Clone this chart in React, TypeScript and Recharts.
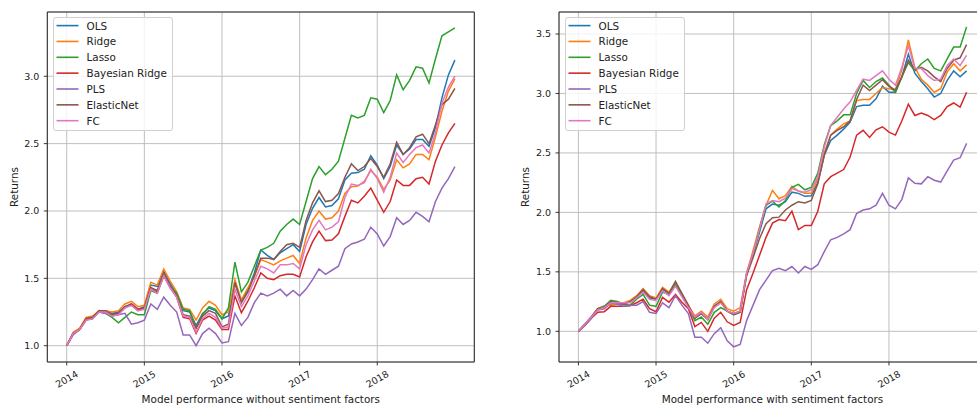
import React from 'react';
import {
  LineChart,
  Line,
  XAxis,
  YAxis,
  CartesianGrid,
  ReferenceArea,
  Legend,
} from 'recharts';

// Monthly cumulative returns, Jan 2014 (month 0) to Jan 2019 (month 60)
const years = ['2014', '2015', '2016', '2017', '2018'];
const yearTicks = [0, 12, 24, 36, 48];

const seriesNames = ['OLS', 'Ridge', 'Lasso', 'Bayesian Ridge', 'PLS', 'ElasticNet', 'FC'];
const seriesColors = ['#1f77b4', '#ff7f0e', '#2ca02c', '#d62728', '#9467bd', '#8c564b', '#e377c2'];

// --- without sentiment factors ---
const olsBase = [
  1.00, 1.09, 1.12, 1.20, 1.21, 1.26, 1.26, 1.24, 1.25, 1.29,
  1.31, 1.27, 1.29, 1.45, 1.44, 1.55, 1.46, 1.38, 1.26, 1.25,
  1.15, 1.24, 1.28, 1.26, 1.20, 1.22, 1.46, 1.33, 1.41, 1.54,
  1.71, 1.67, 1.64, 1.69, 1.72, 1.75, 1.70, 1.90, 2.02, 2.10,
  2.03, 2.04, 2.09, 2.23, 2.28, 2.285, 2.31, 2.41, 2.34, 2.24,
  2.33, 2.49, 2.42, 2.46, 2.53, 2.53, 2.48, 2.62, 2.84, 3.01,
  3.12,
];
const ridgeBase = [
  1.00, 1.10, 1.13, 1.21, 1.22, 1.26, 1.26, 1.25, 1.26, 1.31,
  1.33, 1.29, 1.30, 1.47, 1.45, 1.57, 1.48, 1.40, 1.28, 1.27,
  1.19, 1.28, 1.33, 1.30, 1.23, 1.25, 1.49, 1.34, 1.43, 1.51,
  1.64, 1.62, 1.60, 1.63, 1.65, 1.67, 1.61, 1.80, 1.93, 2.00,
  1.94, 1.95, 2.00, 2.13, 2.18, 2.185, 2.22, 2.30, 2.25, 2.16,
  2.23, 2.38, 2.32, 2.35, 2.42, 2.42, 2.38, 2.55, 2.74, 2.89,
  2.98,
];
const lassoBase = [
  1.00, 1.09, 1.12, 1.19, 1.20, 1.25, 1.24, 1.21, 1.17, 1.21,
  1.25, 1.23, 1.23, 1.41, 1.39, 1.52, 1.44, 1.39, 1.27, 1.26,
  1.13, 1.23, 1.29, 1.27, 1.20, 1.28, 1.62, 1.40, 1.47, 1.59,
  1.71, 1.73, 1.76, 1.85, 1.90, 1.94, 1.90, 2.07, 2.24, 2.33,
  2.27, 2.31, 2.37, 2.54, 2.71, 2.69, 2.71, 2.84, 2.83, 2.73,
  2.82, 3.01, 2.90, 2.97, 3.07, 3.06, 2.95, 3.13, 3.30, 3.33,
  3.36,
];
const bayesBase = [
  1.00, 1.09, 1.12, 1.20, 1.21, 1.26, 1.25, 1.23, 1.24, 1.28,
  1.31, 1.27, 1.28, 1.43, 1.40, 1.52, 1.43, 1.36, 1.21, 1.20,
  1.09, 1.19, 1.22, 1.19, 1.12, 1.12, 1.37, 1.245, 1.33, 1.43,
  1.54, 1.50, 1.49, 1.52, 1.53, 1.53, 1.51, 1.66, 1.77, 1.85,
  1.78, 1.785, 1.83, 1.96, 2.08, 2.06, 2.11, 2.17, 2.08, 1.99,
  2.07, 2.23, 2.19, 2.19, 2.24, 2.25, 2.20, 2.37, 2.49, 2.58,
  2.65,
];
const plsBase = [
  1.00, 1.08, 1.12, 1.19, 1.21, 1.25, 1.24, 1.22, 1.23, 1.24,
  1.16, 1.17, 1.19, 1.31, 1.27, 1.36, 1.30, 1.25, 1.08, 1.08,
  1.00, 1.09, 1.13, 1.09, 1.02, 1.03, 1.24, 1.15, 1.21, 1.32,
  1.39, 1.37, 1.39, 1.42, 1.37, 1.41, 1.37, 1.42, 1.49, 1.57,
  1.53, 1.56, 1.59, 1.72, 1.755, 1.77, 1.79, 1.88, 1.83, 1.74,
  1.81, 1.95, 1.90, 1.93, 1.99, 1.96, 1.92, 2.07, 2.17, 2.24,
  2.33,
];
const enetBase = [
  1.00, 1.09, 1.12, 1.20, 1.21, 1.26, 1.26, 1.23, 1.24, 1.29,
  1.30, 1.26, 1.28, 1.43, 1.41, 1.54, 1.44, 1.37, 1.23, 1.22,
  1.13, 1.22, 1.26, 1.24, 1.14, 1.16, 1.47, 1.32, 1.40, 1.52,
  1.65, 1.65, 1.64, 1.70, 1.75, 1.76, 1.73, 1.93, 2.06, 2.15,
  2.07, 2.08, 2.13, 2.25, 2.35, 2.30, 2.33, 2.39, 2.33, 2.25,
  2.35, 2.51, 2.42, 2.47, 2.55, 2.57, 2.50, 2.64, 2.79, 2.83,
  2.91,
];
const fcBase = [
  1.00, 1.09, 1.12, 1.19, 1.20, 1.25, 1.25, 1.22, 1.23, 1.28,
  1.30, 1.26, 1.27, 1.42, 1.39, 1.52, 1.43, 1.36, 1.22, 1.21,
  1.10, 1.20, 1.24, 1.21, 1.13, 1.14, 1.42, 1.29, 1.37, 1.48,
  1.59, 1.57, 1.54, 1.60, 1.60, 1.61, 1.57, 1.75, 1.86, 1.93,
  1.86, 1.88, 1.92, 2.10, 2.20, 2.19, 2.21, 2.31, 2.24, 2.14,
  2.25, 2.43, 2.36, 2.42, 2.47, 2.49, 2.43, 2.58, 2.80, 2.92,
  3.00,
];

// --- with sentiment factors ---
const olsSent = [
  1.00, 1.06, 1.12, 1.19, 1.20, 1.23, 1.23, 1.23, 1.25, 1.29,
  1.34, 1.28, 1.27, 1.35, 1.32, 1.39, 1.30, 1.21, 1.11, 1.15,
  1.10, 1.21, 1.25, 1.17, 1.15, 1.17, 1.48, 1.65, 1.835, 2.03,
  2.07, 2.06, 2.09, 2.17, 2.16, 2.135, 2.14, 2.25, 2.48, 2.605,
  2.65, 2.70, 2.76, 2.89, 2.90, 2.90, 2.955, 3.06, 3.01, 3.01,
  3.14, 3.33, 3.17, 3.10, 3.04, 2.97, 3.00, 3.11, 3.19, 3.14,
  3.19,
];
const ridgeSent = [
  1.00, 1.06, 1.12, 1.19, 1.215, 1.22, 1.23, 1.24, 1.26, 1.30,
  1.36, 1.30, 1.28, 1.37, 1.33, 1.41, 1.31, 1.215, 1.13, 1.17,
  1.12, 1.23, 1.27, 1.19, 1.17, 1.20, 1.49, 1.68, 1.88, 2.06,
  2.185, 2.115, 2.14, 2.22, 2.18, 2.16, 2.16, 2.28, 2.50, 2.65,
  2.70, 2.745, 2.77, 2.94, 2.95, 2.95, 3.00, 3.05, 3.04, 3.03,
  3.20, 3.45, 3.22, 3.12, 3.07, 3.01, 3.04, 3.18, 3.25, 3.19,
  3.24,
];
const lassoSent = [
  1.00, 1.06, 1.12, 1.19, 1.21, 1.26, 1.25, 1.23, 1.22, 1.27,
  1.31, 1.22, 1.21, 1.33, 1.31, 1.40, 1.30, 1.21, 1.09, 1.12,
  1.06, 1.16, 1.20, 1.17, 1.14, 1.16, 1.48, 1.65, 1.86, 2.06,
  2.095, 2.045, 2.10, 2.21, 2.235, 2.19, 2.21, 2.33, 2.57, 2.73,
  2.77, 2.82, 2.82, 3.00, 3.11, 3.05, 3.10, 3.13, 3.07, 3.01,
  3.14, 3.26, 3.19, 3.25, 3.29, 3.21, 3.19, 3.29, 3.39, 3.39,
  3.56,
];
const bayesSent = [
  1.00, 1.05, 1.11, 1.16, 1.165, 1.21, 1.21, 1.21, 1.215, 1.24,
  1.27, 1.19, 1.165, 1.285, 1.245, 1.31, 1.245, 1.19, 1.04, 1.075,
  1.00, 1.11, 1.16, 1.08, 1.05, 1.075, 1.35, 1.49, 1.64, 1.79,
  1.91, 1.94, 1.93, 2.01, 1.855, 1.89, 1.89, 2.01, 2.24, 2.30,
  2.33, 2.36, 2.465, 2.65, 2.69, 2.63, 2.695, 2.72, 2.675, 2.65,
  2.77, 2.91, 2.815, 2.835, 2.815, 2.78, 2.815, 2.89, 2.92, 2.885,
  3.01,
];
const plsSent = [
  1.00, 1.05, 1.11, 1.18, 1.19, 1.24, 1.23, 1.21, 1.22, 1.22,
  1.25, 1.16, 1.15, 1.24, 1.20, 1.30, 1.22, 1.15, 0.95, 0.95,
  0.90, 0.98, 1.03, 0.92, 0.87, 0.89, 1.09, 1.22, 1.35, 1.43,
  1.51, 1.53, 1.51, 1.545, 1.49, 1.545, 1.52, 1.56, 1.67, 1.77,
  1.79, 1.82, 1.855, 1.99, 2.02, 2.03, 2.06, 2.16, 2.06, 2.03,
  2.11, 2.29, 2.245, 2.24, 2.30, 2.27, 2.255, 2.35, 2.44, 2.46,
  2.58,
];
const enetSent = [
  1.00, 1.06, 1.12, 1.19, 1.20, 1.25, 1.24, 1.23, 1.25, 1.29,
  1.35, 1.29, 1.27, 1.36, 1.32, 1.42, 1.32, 1.22, 1.11, 1.15,
  1.10, 1.21, 1.25, 1.17, 1.14, 1.16, 1.47, 1.62, 1.78, 1.905,
  1.955, 1.96, 2.02, 2.06, 2.09, 2.08, 2.10, 2.24, 2.48, 2.65,
  2.69, 2.72, 2.77, 2.95, 3.07, 3.025, 3.07, 3.115, 3.06, 3.03,
  3.14, 3.28, 3.20, 3.22, 3.19, 3.14, 3.10, 3.21, 3.28, 3.30,
  3.41,
];
const fcSent = [
  1.00, 1.06, 1.12, 1.18, 1.20, 1.24, 1.24, 1.24, 1.24, 1.28,
  1.33, 1.27, 1.26, 1.34, 1.30, 1.38, 1.29, 1.20, 1.12, 1.16,
  1.10, 1.20, 1.24, 1.17, 1.15, 1.17, 1.49, 1.66, 1.86, 2.07,
  2.10, 2.09, 2.12, 2.20, 2.18, 2.17, 2.19, 2.30, 2.55, 2.73,
  2.80, 2.87, 2.93, 3.025, 3.12, 3.11, 3.15, 3.19, 3.12, 3.07,
  3.22, 3.40, 3.21, 3.21, 3.15, 3.11, 3.12, 3.235, 3.29, 3.235,
  3.32,
];

const yTicksBase = [1.0, 1.5, 2.0, 2.5, 3.0];
const yTicksSent = [1.0, 1.5, 2.0, 2.5, 3.0, 3.5];

const FONT = '"DejaVu Sans", Verdana, sans-serif';
const TEXT = '#222222';

function buildRows(cols: number[][]) {
  return cols[0].map((_, m) => {
    const row: Record<string, number> = { m };
    seriesNames.forEach((name, i) => {
      row[name] = cols[i][m];
    });
    return row;
  });
}

const rowsBase = buildRows([olsBase, ridgeBase, lassoBase, bayesBase, plsBase, enetBase, fcBase]);
const rowsSent = buildRows([olsSent, ridgeSent, lassoSent, bayesSent, plsSent, enetSent, fcSent]);

const yearOf = (m: number) => years[yearTicks.indexOf(m)] ?? '';

const YearTick = (props: any) => {
  const { x, y, payload } = props;
  return (
    <g transform={`translate(${x},${y + 11.5}) rotate(-30)`}>
      <text
        textAnchor="middle"
        dominantBaseline="central"
        fontSize={9.5}
        fontFamily={FONT}
        fill={TEXT}
      >
        {yearOf(payload.value)}
      </text>
    </g>
  );
};

// Legend entries kept in plotting order (OLS first, FC last)
const LegendBox = (props: any) => {
  const fromPayload: any[] = props.payload && props.payload.length ? [...props.payload] : [];
  const items = fromPayload.length
    ? fromPayload
        .map((p: any) => ({ name: String(p.value), color: p.color }))
        .sort((a, b) => seriesNames.indexOf(a.name) - seriesNames.indexOf(b.name))
    : seriesNames.map((n, i) => ({ name: n, color: seriesColors[i] }));
  const w = 120;
  const h = 114;
  return (
    <div
      style={{
        width: w,
        height: h,
        boxSizing: 'border-box',
        border: '1px solid #d0d0d0',
        borderRadius: 3,
        background: 'rgba(255,255,255,0.82)',
        position: 'relative',
      }}
    >
      <svg width={w} height={h} style={{ position: 'absolute', left: -1, top: -1 }}>
        {items.map((it: any, i: number) => {
          const cy = 8.6 + i * 15.85;
          return (
            <g key={it.name}>
              <line x1={3.5} x2={25.5} y1={cy} y2={cy} stroke={it.color} strokeWidth={1.6} />
              <text
                x={33.5}
                y={cy}
                dominantBaseline="central"
                fontSize={10.4}
                fontFamily={FONT}
                fill={TEXT}
              >
                {it.name}
              </text>
            </g>
          );
        })}
      </svg>
    </div>
  );
};

type PanelProps = {
  rows: Record<string, number>[];
  width: number;
  axisWidth: number;
  marginRight: number;
  domain: [number, number];
  yTicks: number[];
  title: string;
};

const Panel = ({ rows, width, axisWidth, marginRight, domain, yTicks, title }: PanelProps) => (
  <LineChart
    width={width}
    height={407}
    data={rows}
    margin={{ top: 12, right: marginRight, bottom: 0, left: 0 }}
  >
    <CartesianGrid stroke="#b8b8b8" strokeWidth={0.9} />
    <XAxis
      dataKey="m"
      type="number"
      domain={[-3, 63]}
      ticks={yearTicks}
      interval={0}
      allowDataOverflow
      height={45}
      axisLine={false}
      tickLine={{ stroke: '#222', strokeWidth: 0.9 }}
      tickSize={3.5}
      tickMargin={2}
      tick={(p: any) => <YearTick {...p} />}
      label={{
        content: (lp: any) => {
          const vb = lp.viewBox || { x: axisWidth, y: 362, width: 427, height: 45 };
          return (
            <text
              x={vb.x + vb.width / 2}
              y={vb.y + 41.3}
              textAnchor="middle"
              fontSize={10.4}
              fontFamily={FONT}
              fill={TEXT}
            >
              {title}
            </text>
          );
        },
      }}
    />
    <YAxis
      type="number"
      domain={domain}
      ticks={yTicks}
      interval={0}
      allowDataOverflow
      width={axisWidth}
      axisLine={false}
      tickLine={{ stroke: '#222', strokeWidth: 0.9 }}
      tickSize={3.5}
      tickMargin={4.5}
      tickFormatter={(v: number) => v.toFixed(1)}
      tick={{ fontSize: 9.5, fill: TEXT, fontFamily: FONT }}
      label={{
        content: (lp: any) => {
          const vb = lp.viewBox || { x: 0, y: 12, width: axisWidth, height: 350 };
          const cx = vb.x + vb.width - 33.7;
          const cy = vb.y + vb.height / 2;
          return (
            <text
              x={cx}
              y={cy}
              transform={`rotate(-90, ${cx}, ${cy})`}
              textAnchor="middle"
              dominantBaseline="central"
              fontSize={10.4}
              fontFamily={FONT}
              fill={TEXT}
            >
              Returns
            </text>
          );
        },
      }}
    />
    {seriesNames.map((name, i) => (
      <Line
        key={name}
        type="linear"
        dataKey={name}
        name={name}
        stroke={seriesColors[i]}
        strokeWidth={1.5}
        dot={false}
        activeDot={false}
        isAnimationActive={false}
      />
    ))}
    <ReferenceArea
      x1={-3}
      x2={63}
      y1={domain[0]}
      y2={domain[1]}
      fill="none"
      fillOpacity={0}
      stroke="#262626"
      strokeWidth={1}
      ifOverflow="visible"
    />
    <Legend
      layout="vertical"
      align="center"
      verticalAlign="middle"
      itemSorter={null as any}
      wrapperStyle={{ left: axisWidth + 5.5, top: 17.3, width: 120, height: 114 }}
      content={(p: any) => <LegendBox {...p} />}
    />
  </LineChart>
);

export default function App() {
  return (
    <div
      style={{
        position: 'absolute',
        left: 0,
        top: 0,
        width: 977,
        height: 407,
        overflow: 'hidden',
        background: '#ffffff',
        fontFamily: FONT,
      }}
    >
      <div style={{ position: 'absolute', left: 0, top: 0 }}>
        <Panel
          rows={rowsBase}
          width={490}
          axisWidth={47.3}
          marginRight={15.7}
          domain={[0.879, 3.477]}
          yTicks={yTicksBase}
          title="Model performance without sentiment factors"
        />
      </div>
      <div style={{ position: 'absolute', left: 490, top: 0 }}>
        <Panel
          rows={rowsSent}
          width={505}
          axisWidth={69}
          marginRight={9}
          domain={[0.742, 3.685]}
          yTicks={yTicksSent}
          title="Model performance with sentiment factors"
        />
      </div>
    </div>
  );
}
